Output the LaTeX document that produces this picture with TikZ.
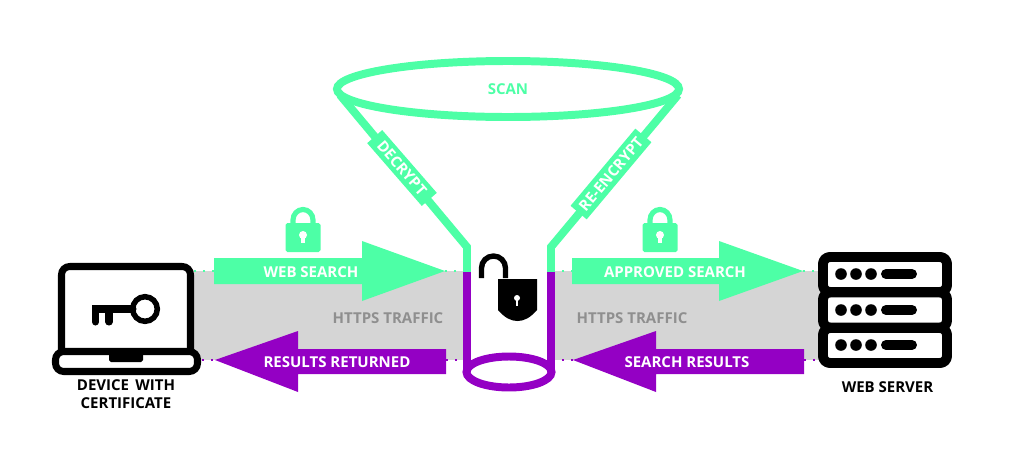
\documentclass[tikz,border=0pt]{standalone}
\usepackage{fontspec}
\setmainfont{Open Sans}
\definecolor{mint}{HTML}{4DFFA6}
\definecolor{violet}{HTML}{9400C4}
\definecolor{bandgray}{HTML}{D5D5D5}
\definecolor{textgray}{HTML}{8F8F8F}
\tikzset{
	txt/.style={font=\fontsize{12.8}{15.5}\selectfont\bfseries,inner sep=0pt,align=center},
	arrowtxt/.style={txt,text=white},
	graytxt/.style={txt,text=textgray},
	icontxt/.style={txt,text=black},
	wall/.style={line width=6.8pt},
	banner/.style={arrowtxt,fill=mint},
	greendots/.style={mint,line width=1.7pt,dash pattern=on 1.7pt off 6pt},
	purpledots/.style={violet,line width=1.7pt,dash pattern=on 1.7pt off 6pt},
	icon/.style={black,line width=6pt,line join=round}
}
\begin{document}
\begin{tikzpicture}[x=0.03cm,y=-0.03cm]
	\useasboundingbox (0,0) rectangle (1024,469);

	%traffic band
	\fill[bandgray] (190,271) rectangle (465,360);
	\fill[bandgray] (553,271) rectangle (822,360);

	%dotted lines
	\coordinate (laptopTop) at (194,271);
	\coordinate (searchTail) at (214,271);
	\coordinate (searchTip) at (445,271);
	\coordinate (wallGreenL) at (465,271);
	\coordinate (wallGreenR) at (553,271);
	\coordinate (approvedTail) at (572,271);
	\coordinate (approvedTip) at (803,271);
	\coordinate (serverTop) at (820,271);
	\coordinate (laptopBase) at (202,360);
	\coordinate (returnedTip) at (215,360);
	\coordinate (returnedTail) at (446,360);
	\coordinate (wallPurpleL) at (465,360);
	\coordinate (wallPurpleR) at (553,360);
	\coordinate (resultsTip) at (573,360);
	\coordinate (resultsTail) at (804,360);
	\coordinate (serverBase) at (820,360);
	\draw[greendots] (laptopTop) -- (searchTail);
	\draw[greendots] (searchTip) -- (wallGreenL);
	\draw[greendots] (wallGreenR) -- (approvedTail);
	\draw[greendots] (approvedTip) -- (serverTop);
	\draw[purpledots] (laptopBase) -- (returnedTip);
	\draw[purpledots] (returnedTail) -- (wallPurpleL);
	\draw[purpledots] (wallPurpleR) -- (resultsTip);
	\draw[purpledots] (resultsTail) -- (serverBase);

	%arrows
	\fill[mint] (214,258) -- (362,258) -- (362,241) -- (445,271) -- (362,301) -- (362,284) -- (214,284) -- cycle; %web search
	\fill[mint] (572,258) -- (719,258) -- (719,241) -- (803,271) -- (719,301) -- (719,284) -- (572,284) -- cycle; %approved search
	\fill[violet] (446,349) -- (298,349) -- (298,331) -- (215,360) -- (298,392) -- (298,374) -- (446,374) -- cycle; %results returned
	\fill[violet] (804,349) -- (656,349) -- (656,331) -- (573,360) -- (656,392) -- (656,374) -- (804,374) -- cycle; %search results

	%funnel
	\draw[wall,mint] (340,95) -- (467,247) -- (467,272); %left wall
	\draw[wall,mint] (678,95) -- (551,247) -- (551,272); %right wall
	\draw[wall,mint] (508,89) ellipse (171 and 28);
	\draw[wall,violet] (467,272) -- (467,372); %left wall
	\draw[wall,violet] (551,272) -- (551,372); %right wall
	\draw[wall,violet] (509,372) ellipse (42.5 and 15.5);

	%labels
	\node[txt,text=mint] (scan) at (508,89) {SCAN};
	\node[banner,minimum width=71pt,minimum height=17pt,rotate=-49] (decrypt) at (402,168) {DECRYPT};
	\node[banner,minimum width=86pt,minimum height=18pt,rotate=50] (reencrypt) at (611,174) {RE-ENCRYPT};
	\node[arrowtxt] (websearch) at (311,272) {WEB SEARCH};
	\node[arrowtxt] (approved) at (675,272) {APPROVED SEARCH};
	\node[arrowtxt] (returned) at (337,362) {RESULTS RETURNED};
	\node[arrowtxt] (results) at (687,362) {SEARCH RESULTS};
	\node[graytxt] (httpsL) at (388,318) {HTTPS TRAFFIC};
	\node[graytxt] (httpsR) at (632,318) {HTTPS TRAFFIC};
	\node[icontxt] (device) at (126,394.5) {DEVICE\, WITH\\CERTIFICATE};
	\node[icontxt] (server) at (887.5,387) {WEB SERVER};

	%green locks
	\foreach \x in {303,660}{
		\draw[mint,line width=4.4pt] (\x-10,226) -- (\x-10,220) arc (180:360:10 and 10.5) -- (\x+10,226);
		\fill[mint,rounded corners=1.5pt] (\x-17.5,223) rectangle (\x+17.5,252);
		\fill[white] (\x,235) circle (4);
		\draw[white,line width=3.4pt] (\x,235) -- (\x,243);
	}

	%open lock
	\draw[black,line width=4.6pt] (481.5,278) -- (481.5,268) arc (180:360:12 and 12) -- (505.5,278);
	\fill[black] (498,279) -- (537,279) -- (537,310) .. controls (530,318) and (524,321) .. (517.5,321) .. controls (511,321) and (505,318) .. (498,310) -- cycle;
	\fill[white] (517,298) circle (3);
	\draw[white,line width=1.3pt] (517,298) -- (517,306);

	%laptop
	\draw[icon,fill=white,rounded corners=7pt] (61.5,350) -- (61.5,266.5) -- (190.5,266.5) -- (190.5,350);
	\draw[icon,fill=white,rounded corners=7pt] (55.5,351.5) -- (197.5,351.5) -- (197.5,371.5) -- (55.5,371.5) -- cycle;
	\fill[black,rounded corners=1.5pt] (109,350) rectangle (143,362);

	%key
	\draw[black,line width=4.7pt] (145,309) circle (12.3);
	\draw[black,line width=6pt,line cap=round] (133,309) -- (95.5,309) -- (95.5,322);
	\draw[black,line width=6pt,line cap=round] (109,309) -- (109,322);

	%server
	\foreach \y in {257,292.5,328}{
		\draw[icon,line width=8.5pt,fill=white,rounded corners=6pt] (823,\y) rectangle (947,\y+35);
	}
	\foreach \y in {274,310,345}{
		\foreach \x in {841,856,871}{
			\fill[black] (\x,\y) circle (5.8);
		}
		\draw[black,line width=8.5pt,line cap=round] (886,\y) -- (912,\y);
	}
\end{tikzpicture}
\end{document}
